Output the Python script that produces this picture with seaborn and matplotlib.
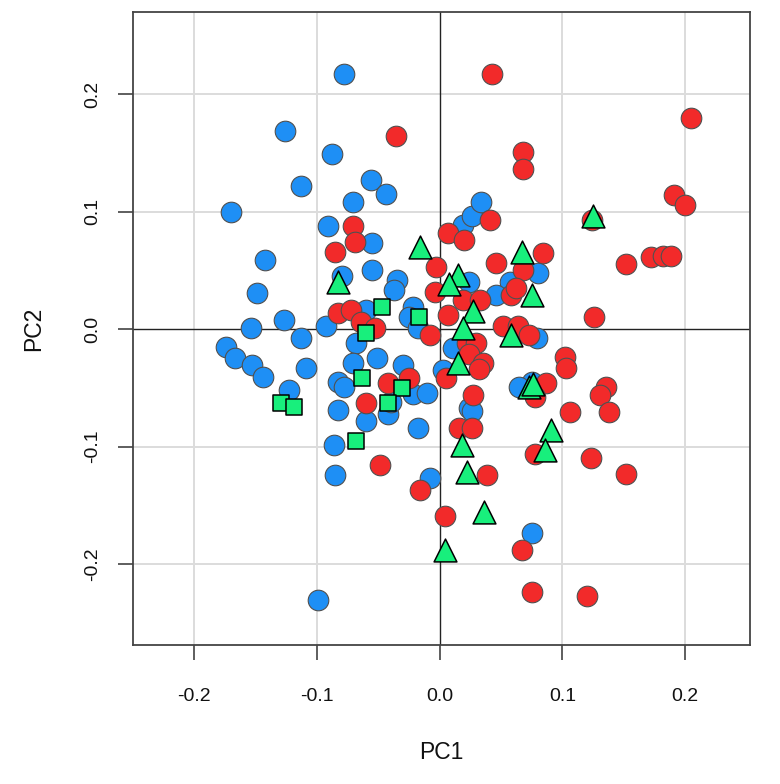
import numpy as np
import pandas as pd
import matplotlib
matplotlib.use("Agg")
import matplotlib.pyplot as plt
import seaborn as sns

# PCA scores, three groups
blue_pc1 = [-0.078, -0.126, -0.088, -0.113, -0.170, -0.056, -0.044, -0.071, -0.091, -0.055,
            -0.142, -0.080, -0.055, -0.149, -0.035, -0.037, -0.060, -0.022, -0.025, -0.018,
            -0.127, -0.093, -0.154, -0.113, -0.068, -0.174, -0.167, -0.153, -0.144, -0.109,
            -0.051, -0.071, -0.030, -0.083, -0.078, -0.123, -0.022, -0.010, -0.083, -0.060,
            -0.042, -0.040, -0.018, -0.086, -0.085, -0.008, -0.099, 0.019, 0.026, 0.034,
            0.024, 0.057, 0.046, 0.080, 0.079, 0.011, 0.003, 0.075, 0.065, 0.024,
            0.026, 0.075]
blue_pc2 = [0.217, 0.169, 0.149, 0.122, 0.100, 0.127, 0.115, 0.108, 0.088, 0.073,
            0.059, 0.045, 0.050, 0.031, 0.042, 0.033, 0.016, 0.019, 0.010, 0.001,
            0.008, 0.003, 0.001, -0.008, -0.012, -0.015, -0.025, -0.031, -0.041, -0.033,
            -0.025, -0.029, -0.031, -0.045, -0.049, -0.052, -0.055, -0.054, -0.069, -0.078,
            -0.072, -0.062, -0.084, -0.099, -0.124, -0.127, -0.231, 0.089, 0.096, 0.108,
            0.040, 0.040, 0.029, 0.048, -0.008, -0.016, -0.035, -0.045, -0.049, -0.067,
            -0.070, -0.174]

red_pc1 = [0.043, -0.036, 0.068, 0.068, 0.205, 0.191, 0.200, 0.124, 0.041, -0.071,
           0.007, 0.020, -0.069, -0.085, 0.084, 0.152, 0.172, 0.182, 0.189, 0.046,
           0.068, -0.003, -0.004, 0.019, 0.033, 0.058, 0.062, -0.083, -0.072, -0.064,
           -0.053, 0.007, 0.126, 0.052, 0.064, 0.073, -0.008, 0.022, 0.030, 0.024,
           0.102, 0.103, 0.035, 0.032, -0.025, -0.042, 0.005, 0.087, 0.136, 0.131,
           0.078, 0.027, -0.060, 0.106, 0.138, 0.016, 0.026, 0.078, 0.123, -0.049,
           0.039, 0.152, -0.016, 0.004, 0.067, 0.075, 0.120]
red_pc2 = [0.217, 0.164, 0.151, 0.136, 0.180, 0.114, 0.106, 0.093, 0.093, 0.088,
           0.082, 0.076, 0.074, 0.066, 0.065, 0.055, 0.061, 0.062, 0.062, 0.056,
           0.050, 0.053, 0.032, 0.025, 0.025, 0.029, 0.035, 0.014, 0.016, 0.006,
           0.001, 0.012, 0.010, 0.003, 0.003, -0.005, -0.005, -0.012, -0.012, -0.021,
           -0.024, -0.033, -0.029, -0.034, -0.042, -0.046, -0.042, -0.046, -0.049, -0.056,
           -0.058, -0.056, -0.063, -0.071, -0.071, -0.084, -0.084, -0.106, -0.110, -0.116,
           -0.124, -0.123, -0.137, -0.159, -0.188, -0.224, -0.227]

tri_pc1 = [-0.083, -0.016, 0.015, 0.008, 0.067, 0.125, 0.027, 0.019, 0.075, 0.058,
           0.015, 0.073, 0.076, 0.018, 0.022, 0.091, 0.086, 0.036, 0.004]
tri_pc2 = [0.040, 0.070, 0.046, 0.038, 0.066, 0.096, 0.015, 0.001, 0.029, -0.005,
           -0.029, -0.049, -0.047, -0.099, -0.122, -0.086, -0.103, -0.156, -0.188]

sq_pc1 = [-0.047, -0.017, -0.060, -0.063, -0.031, -0.042, -0.068, -0.129, -0.119]
sq_pc2 = [0.019, 0.010, -0.003, -0.042, -0.050, -0.063, -0.095, -0.063, -0.066]

blue = pd.DataFrame({"PC1": blue_pc1, "PC2": blue_pc2})
red = pd.DataFrame({"PC1": red_pc1, "PC2": red_pc2})
tri = pd.DataFrame({"PC1": tri_pc1, "PC2": tri_pc2})
sq = pd.DataFrame({"PC1": sq_pc1, "PC2": sq_pc2})

sns.set_style("white")
plt.rcParams["font.family"] = ["Liberation Sans", "DejaVu Sans"]

fig = plt.figure(figsize=(7.8, 7.84), dpi=100)
ax = fig.add_axes([133 / 780, 1 - 645 / 784, 617 / 780, 633 / 784])

ax.set_xlim(-0.25, 0.253)
ax.set_ylim(-0.269, 0.270)
for v in [-0.2, -0.1, 0.1, 0.2]:
    ax.axvline(v, color="#dcdcdc", lw=1.4, zorder=0)
    ax.axhline(v, color="#dcdcdc", lw=1.4, zorder=0)
ax.axvline(0, color="#222222", lw=1.0, zorder=1)
ax.axhline(0, color="#222222", lw=1.0, zorder=1)

sns.scatterplot(data=blue, x="PC1", y="PC2", ax=ax, color="#1e8ff5", s=220,
                edgecolor="#505050", linewidth=0.8, zorder=2)
sns.scatterplot(data=red, x="PC1", y="PC2", ax=ax, color="#f22a2a", s=220,
                edgecolor="#505050", linewidth=0.8, zorder=3)
sns.scatterplot(data=sq, x="PC1", y="PC2", ax=ax, color="#18ef7c", marker="s", s=135,
                edgecolor="black", linewidth=1.1, zorder=4)
sns.scatterplot(data=tri, x="PC1", y="PC2", ax=ax, color="#18ef7c", marker="^", s=270,
                edgecolor="black", linewidth=1.1, zorder=5)

ax.set_xticks([-0.2, -0.1, 0.0, 0.1, 0.2])
ax.set_yticks([-0.2, -0.1, 0.0, 0.1, 0.2])
ax.set_xticklabels(["-0.2", "-0.1", "0.0", "0.1", "0.2"])
ax.set_yticklabels(["-0.2", "-0.1", "0.0", "0.1", "0.2"], rotation=90, va="center")
ax.tick_params(axis="both", direction="out", length=11, width=1.1, color="#333333",
               labelsize=14, labelcolor="#111111")
ax.tick_params(axis="x", pad=20)
ax.tick_params(axis="y", pad=12)
ax.xaxis.set_ticks_position("bottom")
ax.yaxis.set_ticks_position("left")
for sp in ax.spines.values():
    sp.set_color("#444444")
    sp.set_linewidth(1.3)

ax.set_xlabel("PC1", fontsize=16.5, color="#111111", labelpad=26)
ax.set_ylabel("PC2", fontsize=16.5, color="#111111", labelpad=28)

fig.savefig("out.png", dpi=100)
